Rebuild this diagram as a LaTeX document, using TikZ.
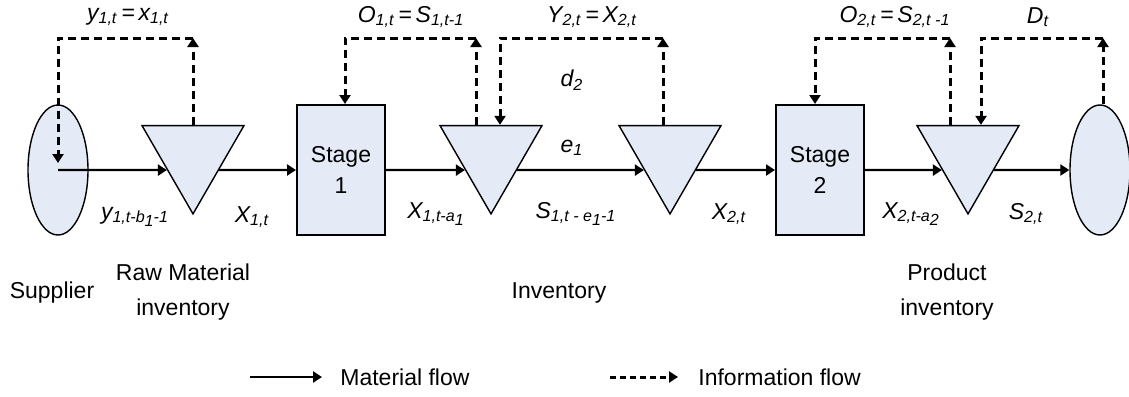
\documentclass[tikz,border=0pt]{standalone}
\usepackage{fontspec}
\setmainfont{Liberation Sans}
\usetikzlibrary{arrows.meta,shapes.geometric,calc}
\definecolor{stockblue}{RGB}{228,234,246}
\newcommand{\sbs}[1]{\textsubscript{#1}}
\newcommand{\sbb}[1]{\raisebox{-0.45ex}{#1}}

\begin{document}
\begin{tikzpicture}[x=0.5pt,y=-0.5pt,line join=miter,
  font=\fontsize{11.5}{17.5}\selectfont,
  stagebox/.style={draw,line width=1pt,fill=stockblue,minimum width=44pt,minimum height=65pt,
   inner sep=0pt,align=center,font=\fontsize{11.5}{15.5}\selectfont},
  stock/.style={draw,line width=0.7pt,fill=stockblue,regular polygon,regular polygon sides=3,
   shape border rotate=180,minimum size=58.9pt,inner sep=0pt},
  party/.style={draw,line width=0.7pt,fill=stockblue,ellipse,minimum width=30pt,
   minimum height=65pt,inner sep=0pt},
  matflow/.style={line width=1.15pt,-{Triangle[length=4.5pt,width=5.5pt]}},
  infoflow/.style={line width=1.5pt,dash pattern=on 4pt off 2.5pt,-{Triangle[length=4.5pt,width=5.5pt]}},
  lbl/.style={font=\fontsize{11.5}{17.5}\selectfont\itshape,inner sep=0pt},
  txt/.style={align=center,inner sep=0pt}]
  \useasboundingbox (0,0) rectangle (1129,396);

  % Supplier, the two stages with their stock points, and the customer.
  \node[party] (sup) at (58,170) {};
  \node[stock] (t1) at (193,155) {};
  \node[stagebox] (st1) at (341,170) {Stage\\1};
  \node[stock] (t2) at (491,155) {};
  \node[stock] (t3) at (670,155) {};
  \node[stagebox] (st2) at (820,170) {Stage\\2};
  \node[stock] (t4) at (968,155) {};
  \node[party] (cus) at (1100,170) {};

  % Material flow along the chain.
  \draw[matflow] (sup.center) -- (t1.side 3);
  \draw[matflow] (t1.side 1) -- (st1.west);
  \draw[matflow] (st1.east) -- (t2.side 3);
  \draw[matflow] (t2.side 1) -- (t3.side 3);
  \draw[matflow] (t3.side 1) -- (st2.west);
  \draw[matflow] (st2.east) -- (t4.side 3);
  \draw[matflow] (t4.side 1) -- (cus.west);

  % Information flow, routed over the top of the chain.
  \coordinate (top) at (0,38);
  \coordinate (t2up) at ($(t2.side 2)+(-15,0)$);
  \coordinate (t2dn) at ($(t2.side 2)+(9,0)$);
  \coordinate (t3up) at ($(t3.side 2)+(-7,0)$);
  \coordinate (t4up) at ($(t4.side 2)+(-18,0)$);
  \coordinate (t4dn) at ($(t4.side 2)+(13,0)$);
  \coordinate (cusup) at ($(cus.north)+(3,0)$);
  \draw[infoflow] (t1.side 2) -- (t1.side 2 |- top);
  \draw[infoflow] (t1.side 2 |- top) -| ($(sup.center)+(0,-7)$);
  \draw[infoflow] (t2up) -- (t2up |- top);
  \draw[infoflow] (t2up |- top) -| ($(st1.north)+(4,0)$);
  \draw[infoflow] (t3up) -- (t3up |- top);
  \draw[infoflow] (t3up |- top) -| (t2dn);
  \draw[infoflow] (t4up) -- (t4up |- top);
  \draw[infoflow] (t4up |- top) -| ($(st2.north)+(-5,0)$);
  \draw[infoflow] (cusup) -- (cusup |- top);
  \draw[infoflow] (cusup |- top) -| (t4dn);

  % Flow variables.
  \node[lbl] (ly1) at (128,17) {y\sbs{1,t}\,=\,x\sbs{1,t}};
  \node[lbl] (lo1) at (411,17) {O\sbs{1,t}\,=\,S\sbs{1,t-1}};
  \node[lbl] (ly2) at (592,17) {Y\sbs{2,t}\,=\,X\sbs{2,t}};
  \node[lbl] (lo2) at (895,17) {O\sbs{2,t}\,=\,S\sbs{2,t -1}};
  \node[lbl] (ld) at (1038,17) {D\sbs{t}};
  \node[lbl] (ld2) at (572,80) {d\sbs{2}};
  \node[lbl] (le1) at (572,148) {e\sbs{1}};
  \node[lbl] (lyb) at (135,217) {y\sbs{1,t-b\sbb{1}-1}};
  \node[lbl] (lx1) at (252,217) {X\sbs{1,t}};
  \node[lbl] (lxa1) at (436,214) {X\sbs{1,t-a\sbb{1}}};
  \node[lbl] (ls1) at (576,214) {S\sbs{1,t - e\sbb{1}-1}};
  \node[lbl] (lx2) at (729,214) {X\sbs{2,t}};
  \node[lbl] (lxa2) at (911,214) {X\sbs{2,t-a\sbb{2}}};
  \node[lbl] (ls2) at (1026,214) {S\sbs{2,t}};

  % Names under the chain.
  \node[txt] (nsup) at (52,293) {Supplier};
  \node[txt] (nraw) at (183,292) {Raw Material\\inventory};
  \node[txt] (ninv) at (559,293) {Inventory};
  \node[txt] (nprod) at (947,292) {Product\\inventory};

  % Legend.
  \coordinate (lm1) at (250,377);
  \coordinate (lm2) at (322,377);
  \coordinate (li1) at (610,377);
  \coordinate (li2) at (678,377);
  \draw[matflow] (lm1) -- (lm2);
  \draw[infoflow,dash pattern=on 3pt off 2pt] (li1) -- (li2);
  \node[txt,anchor=west] (lmt) at (340,377) {Material flow};
  \node[txt,anchor=west] (lit) at (698,377) {Information flow};
\end{tikzpicture}
\end{document}
